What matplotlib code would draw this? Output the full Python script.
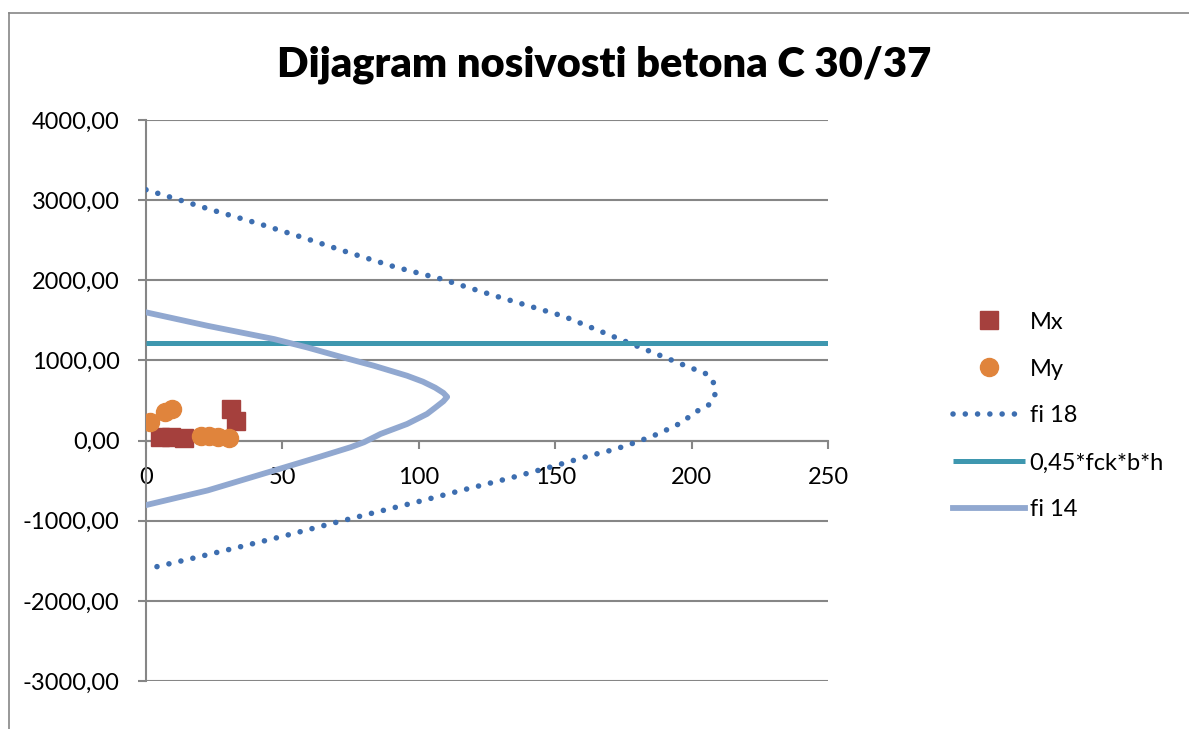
import matplotlib
matplotlib.use('Agg')
import matplotlib.pyplot as plt
from matplotlib.lines import Line2D
from matplotlib.ticker import FuncFormatter
from matplotlib import rcParams

rcParams['font.family'] = ['Lato', 'DejaVu Sans']
rcParams['font.size'] = 17

#########
# Data  #
#########

# load cases (moment, axial force)
mx_m = [5, 9, 14, 31, 33]
mx_n = [50, 40, 30, 390, 250]
my_m = [1.5, 7.0, 9.5, 20.0, 23.0, 26.5, 30.5]
my_n = [235, 355, 400, 55, 55, 45, 30]

# interaction curve, reinforcement fi 18
fi18_m = [0, 12.5, 24.6, 41.3, 58.0, 74.4, 91.3, 107.7, 128.5, 153.1, 173.2,
          189.2, 197.3, 205.8, 208.0, 208.6, 206.7, 202.9, 195.6, 188.0, 180.0,
          171.6, 163.2, 150.6, 134.1, 117.3, 100.4, 83.8, 67.0, 50.3, 33.4,
          16.7, 0]
fi18_n = [3130, 3000, 2873, 2707, 2528, 2345, 2166, 2021, 1800, 1551, 1272,
          1052, 940, 827, 723, 578, 453, 387, 212, 87, -17,
          -112, -183, -308, -462, -607, -757, -898, -1044, -1193, -1335,
          -1472, -1605]

# limit 0,45*fck*b*h
lim_m = [0, 250]
lim_n = [1215, 1215]

# interaction curve, reinforcement fi 14
fi14_m = [0, 22.6, 47.0, 59.1, 71.3, 83.5, 95.7, 101.5, 106.0, 109.0, 110.4,
          109.0, 106.0, 103.0, 95.7, 86.0, 79.9, 75.0, 64.0, 47.0, 22.6, 0]
fi14_n = [1600, 1432, 1266, 1162, 1046, 934, 809, 735, 660, 595, 545,
          490, 410, 332, 207, 83, -21, -83, -199, -373, -622, -805]

x_ticks = [0, 50, 100, 150, 200, 250]
y_ticks = [-3000, -2000, -1000, 0, 1000, 2000, 3000, 4000]

########
# Plot #
########

W, H = 1189, 729
grey = '#868686'

fig = plt.figure(figsize=(W/100., H/100.), dpi=100)
ax = fig.add_axes([146./W, 1-681./H, (828.-146.)/W, (681.-120.)/H])

ax.plot(mx_m, mx_n, 's', ms=13, color='#A5403D', label='Mx', zorder=3)
ax.plot(my_m, my_n, 'o', ms=13, color='#E0843C', label='My', zorder=4)
ax.plot(fi18_m, fi18_n, color='#3D6EB0', lw=4.0, ls=(0, (0.01, 2.2)),
        dash_capstyle='round', label='fi 18', zorder=5)
ax.plot(lim_m, lim_n, color='#3E97AF', lw=3.6, solid_capstyle='butt',
        label='0,45*fck*b*h', zorder=6)
ax.plot(fi14_m, fi14_n, color='#91A8D0', lw=4.2, solid_joinstyle='round',
        label='fi 14', zorder=7)

ax.set_xlim(0, 250)
ax.set_ylim(-3000, 4000)
ax.set_xticks(x_ticks)
ax.set_yticks(y_ticks)
ax.yaxis.set_major_formatter(FuncFormatter(lambda v, p: ('%.2f' % v).replace('.', ',')))
ax.grid(axis='y', color=grey, lw=1.5, zorder=0)
ax.grid(axis='x', visible=False)
ax.set_axisbelow(True)

ax.spines['top'].set_visible(False)
ax.spines['right'].set_visible(False)
ax.spines['bottom'].set_position(('data', 0))
for s in ['left', 'bottom']:
    ax.spines[s].set_color(grey)
    ax.spines[s].set_linewidth(1.5)
ax.tick_params(axis='both', direction='out', length=6, width=1.5, color=grey, labelcolor='black')
ax.tick_params(axis='y', pad=13)
ax.tick_params(axis='x', pad=13)

leg = ax.legend(loc='center left', bbox_to_anchor=(953./W, 1-416./H),
                bbox_transform=fig.transFigure, frameon=False, borderpad=0,
                borderaxespad=0, handlelength=3.05, handletextpad=0.2,
                labelspacing=1.1, numpoints=1, fontsize=17)

fig.text(604./W, 1-76.7/H, 'Dijagram nosivosti betona C 30/37', ha='center',
         va='baseline', fontsize=30, fontweight='heavy')

# outer chart frame
fig.add_artist(Line2D([9./W, 9./W], [0, 1-13./H], transform=fig.transFigure, color=grey, lw=1.2))
fig.add_artist(Line2D([9./W, 1], [1-13./H, 1-13./H], transform=fig.transFigure, color=grey, lw=1.2))

fig.savefig('out.png', dpi=100)
